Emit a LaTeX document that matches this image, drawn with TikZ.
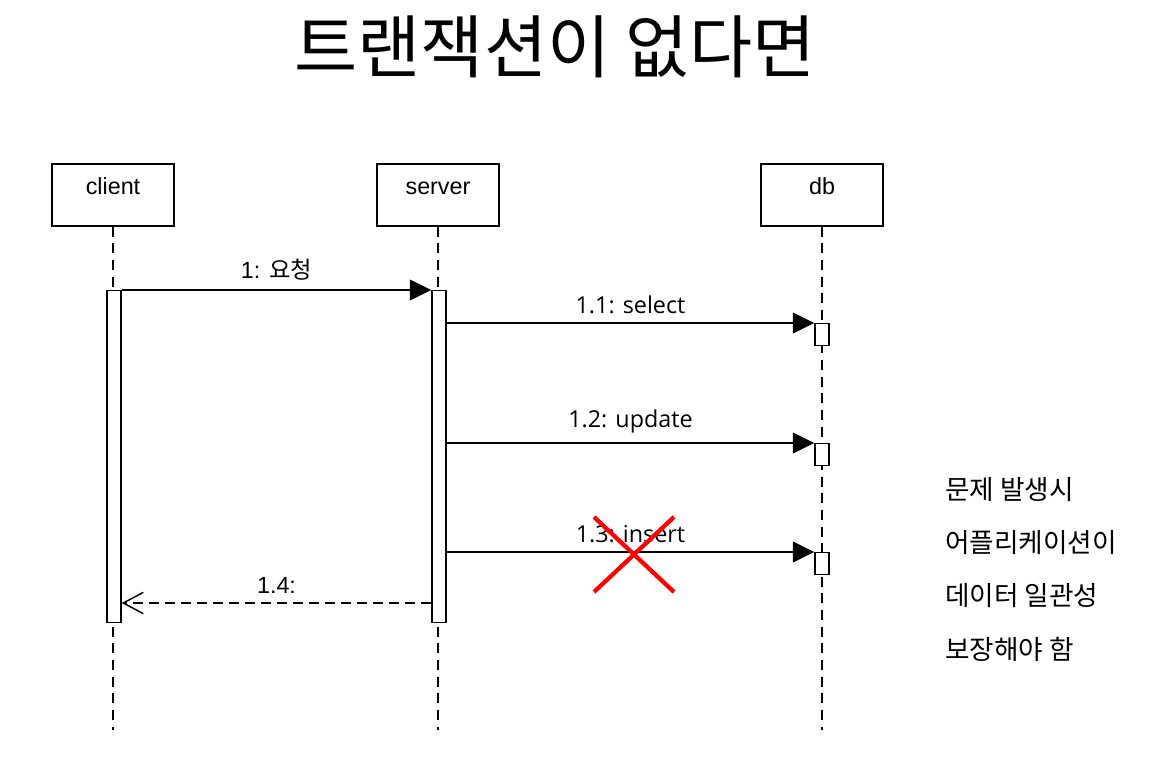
\documentclass[tikz,border=0pt]{standalone}
\usepackage{fontspec}
\setmainfont{Liberation Sans}
\newfontfamily\krfont{Noto Sans CJK KR}
\newfontfamily\msgfont{Open Sans}
\usetikzlibrary{arrows.meta,positioning}
\tikzset{
  objbox/.style={draw, line width=1.1pt, minimum width=91.5pt, minimum height=46.5pt, inner sep=0pt},
  objlabel/.style={anchor=base, inner sep=0pt, yshift=-23.5pt, font=\fontsize{17.5}{20}\selectfont},
  lifeline/.style={line width=0.9pt, dash pattern=on 7.5pt off 5pt},
  actbar/.style={draw, fill=white, line width=1.1pt, minimum width=10.5pt, inner sep=0pt, anchor=north},
  call/.style={line width=1.1pt, -{Triangle[length=16pt,width=15.5pt]}},
  reply/.style={line width=1.1pt, dash pattern=on 7.5pt off 4.5pt, -{Straight Barb[length=15pt,width=16pt]}},
  msglabel/.style={above, inner sep=6.5pt, font=\fontsize{17.5}{20}\selectfont}
}
\begin{document}
\begin{tikzpicture}[x=0.75pt,y=-0.75pt]
\useasboundingbox (0,0) rectangle (1165,781);
% title
\node (title) at (555,47) {\krfont\fontsize{51.5}{60}\selectfont 트랜잭션이 없다면};
% objects
\node[objbox, label={[objlabel]north:client}] (client) at (113,195) {};
\node[objbox, label={[objlabel]north:server}] (server) at (438,195) {};
\node[objbox, label={[objlabel]north:db}] (db) at (822,195) {};
% lifelines
\coordinate (clientend) at (113,730);
\coordinate (serverend) at (438,730);
\coordinate (dbend) at (822,730);
\draw[lifeline] (client) -- (clientend);
\draw[lifeline] (server) -- (serverend);
\draw[lifeline] (db) -- (dbend);
% activations
\node[actbar, minimum height=249pt] (actclient) at (114,290) {};
\node[actbar, minimum height=249pt] (actserver) at (439,290) {};
\node[actbar, minimum height=16.5pt] (actdbA) at (822,323) {};
\node[actbar, minimum height=16.5pt] (actdbB) at (822,443) {};
\node[actbar, minimum height=16.5pt] (actdbC) at (822,552) {};
% messages
\draw[call] (actclient.north east) -- (actserver.north west)
  node[msglabel, midway] {1: {\krfont 요청}};
\draw[call] (actserver.east |- actdbA.north) -- (actdbA.north west)
  node[msglabel, midway] {\msgfont 1.1: select};
\draw[call] (actserver.east |- actdbB.north) -- (actdbB.north west)
  node[msglabel, midway] {\msgfont 1.2: update};
\draw[call] (actserver.east |- actdbC.north) -- (actdbC.north west)
  node[msglabel, midway] {\msgfont 1.3: insert};
\draw[reply] (actserver.west |- 0,603) -- (actclient.east |- 0,603)
  node[msglabel, midway] {1.4:};
% failed insert
\draw[red, line width=3.2pt] (594,517) -- (674,592) (594,592) -- (674,517);
% note
\node[align=left, anchor=north west, inner sep=0pt,
  font=\krfont\fontsize{20}{40}\selectfont] (note) at (945,477)
  {문제 발생시\\어플리케이션이\\데이터 일관성\\보장해야 함};
\end{tikzpicture}
\end{document}
